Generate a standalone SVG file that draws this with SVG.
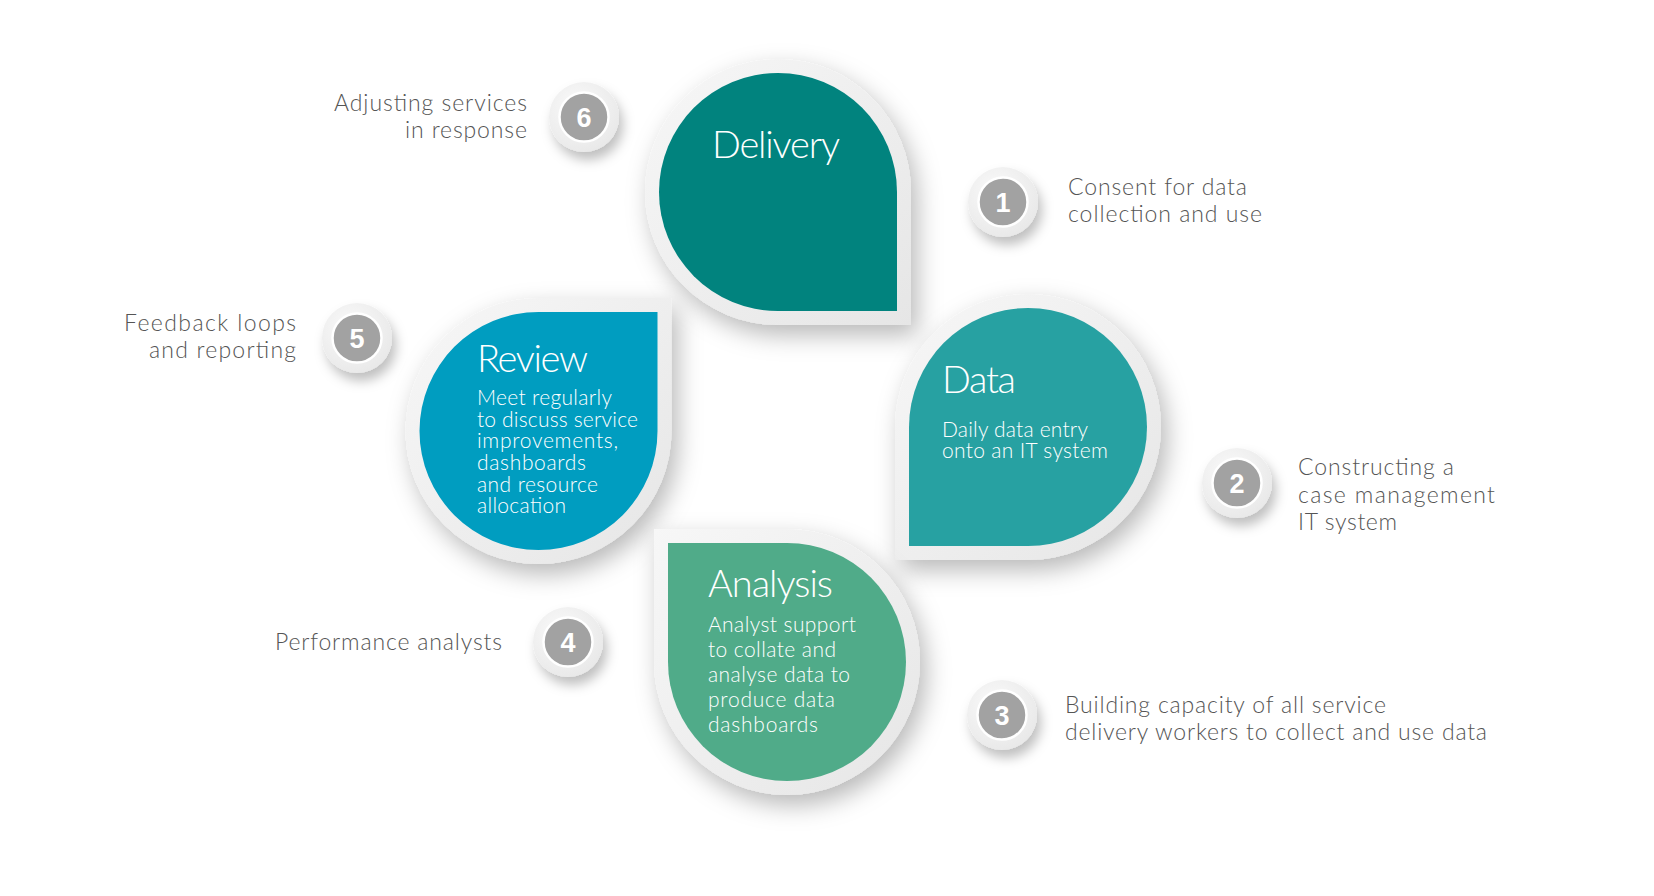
<svg xmlns="http://www.w3.org/2000/svg" width="1654" height="896" viewBox="0 0 1654 896">
<defs>
<filter id="sh" x="-30%" y="-30%" width="170%" height="170%">
<feDropShadow dx="6" dy="10" stdDeviation="12" flood-color="#000" flood-opacity="0.28"/>
</filter>
<filter id="bsh" x="-60%" y="-60%" width="230%" height="230%">
<feDropShadow dx="4" dy="8" stdDeviation="6" flood-color="#000" flood-opacity="0.25"/>
</filter>
<linearGradient id="rim" x1="0" y1="0" x2="1" y2="1">
<stop offset="0" stop-color="#f7f7f7"/>
<stop offset="1" stop-color="#e6e6e6"/>
</linearGradient>
<radialGradient id="brim" cx="0.4" cy="0.35" r="0.7">
<stop offset="0" stop-color="#fafafa"/>
<stop offset="1" stop-color="#e8e8e8"/>
</radialGradient>
</defs>
<style>
.rim{fill:url(#rim);filter:url(#sh)}
.t{font-family:Lato,"Liberation Sans",sans-serif;font-weight:300;fill:#fff}
.title{font-size:38px}
.body{font-size:21px}
.side{font-family:Lato,"Liberation Sans",sans-serif;font-weight:300;font-size:23px;fill:#555}
.bo{fill:url(#brim);filter:url(#bsh)}
.bi{fill:#a2a2a2;stroke:#fff;stroke-width:2.5}
.num{font-family:"Liberation Sans",Arial,sans-serif;font-weight:bold;font-size:27px;fill:#fff;text-anchor:middle}
</style>
<rect width="1654" height="896" fill="#fff"/>
<g id="connectors"/>

<g id="delivery">
<path class="rim" d="M645,192 A133,133 0 0 1 911,192 L911,325 L778,325 A133,133 0 0 1 645,192 Z"/>
<path fill="#01837e" d="M659,192 A119,119 0 0 1 897,192 L897,311 L778,311 A119,119 0 0 1 659,192 Z"/>
<text class="t title" x="712" y="158" textLength="128">Delivery</text>
</g>

<g id="data">
<path class="rim" d="M895,427 A133,133 0 0 1 1161,427 A133,133 0 0 1 1028,560 L895,560 Z"/>
<path fill="#27a1a2" d="M909,427 A119,119 0 0 1 1147,427 A119,119 0 0 1 1028,546 L909,546 Z"/>
<text class="t title" x="942" y="393" textLength="74">Data</text>
<text class="t body" x="942" y="437" textLength="146">Daily data entry</text>
<text class="t body" x="942" y="458" textLength="166">onto an IT system</text>
</g>

<g id="review">
<path class="rim" d="M405.5,431 A133,133 0 0 1 538.5,298 L671.5,298 L671.5,431 A133,133 0 0 1 405.5,431 Z"/>
<path fill="#009dc0" d="M419.5,431 A119,119 0 0 1 538.5,312 L657.5,312 L657.5,431 A119,119 0 0 1 419.5,431 Z"/>
<text class="t title" x="477" y="372" textLength="111">Review</text>
<text class="t body" x="477" y="405" textLength="135">Meet regularly</text>
<text class="t body" x="477" y="427" textLength="161">to discuss service</text>
<text class="t body" x="477" y="448" textLength="141">improvements,</text>
<text class="t body" x="477" y="470" textLength="109">dashboards</text>
<text class="t body" x="477" y="492" textLength="121">and resource</text>
<text class="t body" x="477" y="513" textLength="89">allocation</text>
</g>

<g id="analysis">
<path class="rim" d="M654,529 L787,529 A133,133 0 0 1 787,795 A133,133 0 0 1 654,662 Z"/>
<path fill="#50ab89" d="M668,543 L787,543 A119,119 0 0 1 787,781 A119,119 0 0 1 668,662 Z"/>
<text class="t title" x="708" y="597" textLength="125">Analysis</text>
<text class="t body" x="708" y="632" textLength="148">Analyst support</text>
<text class="t body" x="708" y="657" textLength="128">to collate and</text>
<text class="t body" x="708" y="682" textLength="142">analyse data to</text>
<text class="t body" x="708" y="707" textLength="127">produce data</text>
<text class="t body" x="708" y="732" textLength="110">dashboards</text>
</g>

<g id="step1">
<circle class="bo" cx="1003" cy="202" r="35"/>
<circle class="bi" cx="1003" cy="202" r="24.5"/>
<text class="num" x="1003" y="212">1</text>
<text class="side" x="1068" y="195" textLength="179">Consent for data</text>
<text class="side" x="1068" y="222" textLength="194">collection and use</text>
</g>

<g id="step2">
<circle class="bo" cx="1237" cy="483" r="35"/>
<circle class="bi" cx="1237" cy="483" r="24.5"/>
<text class="num" x="1237" y="493">2</text>
<text class="side" x="1298" y="475" textLength="156">Constructing a</text>
<text class="side" x="1298" y="503" textLength="197">case management</text>
<text class="side" x="1298" y="530" textLength="99">IT system</text>
</g>

<g id="step3">
<circle class="bo" cx="1002" cy="715" r="35"/>
<circle class="bi" cx="1002" cy="715" r="24.5"/>
<text class="num" x="1002" y="725">3</text>
<text class="side" x="1065" y="713" textLength="321">Building capacity of all service</text>
<text class="side" x="1065" y="740" textLength="422">delivery workers to collect and use data</text>
</g>

<g id="step4">
<circle class="bo" cx="568" cy="642" r="35"/>
<circle class="bi" cx="568" cy="642" r="24.5"/>
<text class="num" x="568" y="652">4</text>
<text class="side" x="275" y="650" textLength="227">Performance analysts</text>
</g>

<g id="step5">
<circle class="bo" cx="357" cy="338" r="35"/>
<circle class="bi" cx="357" cy="338" r="24.5"/>
<text class="num" x="357" y="348">5</text>
<text class="side" x="124" y="331" textLength="172">Feedback loops</text>
<text class="side" x="149" y="358" textLength="147">and reporting</text>
</g>

<g id="step6">
<circle class="bo" cx="584" cy="117" r="35"/>
<circle class="bi" cx="584" cy="117" r="24.5"/>
<text class="num" x="584" y="127">6</text>
<text class="side" x="334" y="111" textLength="193">Adjusting services</text>
<text class="side" x="405" y="138" textLength="122">in response</text>
</g>
</svg>
